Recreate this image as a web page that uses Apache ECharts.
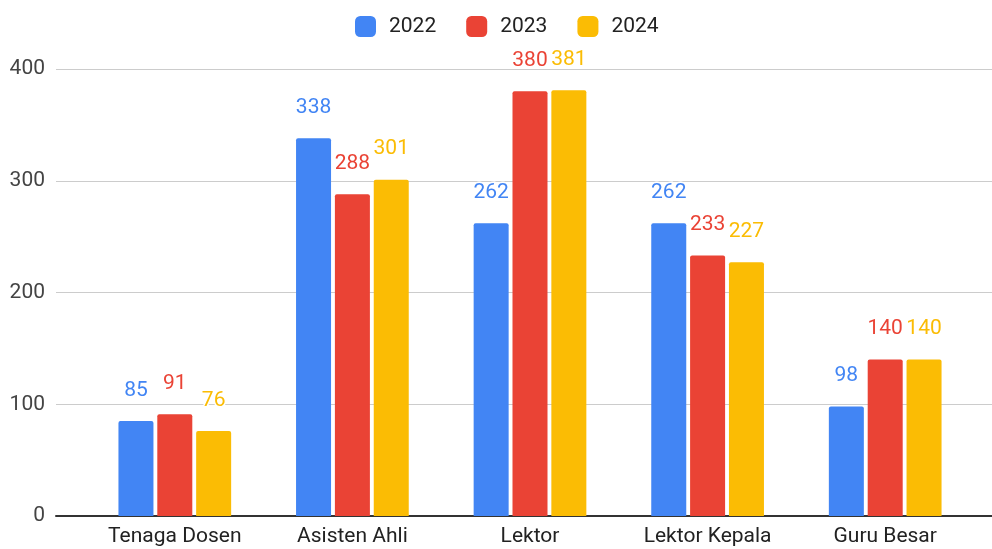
<!DOCTYPE html>
<html><head><meta charset="utf-8">
<script src="https://cdn.jsdelivr.net/npm/echarts@6/dist/echarts.min.js"></script>
<style>html,body{margin:0;padding:0;background:#fff}#c{width:992px;height:549px}</style>
</head><body><div id="c"></div>
<script>
const categories = ["Tenaga Dosen", "Asisten Ahli", "Lektor", "Lektor Kepala", "Guru Besar"];
const seriesNames = ["2022", "2023", "2024"];
const values2022 = [85, 338, 262, 262, 98];
const values2023 = [91, 288, 380, 233, 140];
const values2024 = [76, 301, 381, 227, 140];
const yTicks = [0, 100, 200, 300, 400];

const colors = ["#4285F4", "#EA4335", "#FBBC04"];
const allValues = [values2022, values2023, values2024];
const font = "Roboto";

const chart = echarts.init(document.getElementById('c'));
chart.setOption({
  animation: false,
  color: colors,
  textStyle: { fontFamily: font },
  legend: {
    top: 11, left: 350,
    itemWidth: 21, itemHeight: 21, itemGap: 30,
    icon: 'roundRect',
    textStyle: { fontSize: 21, color: '#222', fontFamily: font, padding: [0, 0, 0, 8] },
    data: seriesNames
  },
  grid: [
    { left: 56, right: 0, top: 69, bottom: 33 },
    { left: 86, right: 18, top: 69, bottom: 33 }
  ],
  xAxis: [
    { type: 'category', gridIndex: 0, data: categories, show: true,
      axisLine: { show: true, lineStyle: { color: '#333', width: 2 } },
      axisTick: { show: false }, axisLabel: { show: false } },
    { type: 'category', gridIndex: 1, data: categories,
      axisLine: { show: false }, axisTick: { show: false },
      axisLabel: { fontSize: 21, color: '#222', fontFamily: font, margin: 10 } }
  ],
  yAxis: [
    { type: 'value', gridIndex: 0, min: yTicks[0], max: yTicks[yTicks.length - 1], interval: 100,
      axisLine: { show: false }, axisTick: { show: false },
      axisLabel: { fontSize: 21, color: '#444', fontFamily: font, margin: 11 },
      splitLine: { lineStyle: { color: '#ccc', width: 1 } } },
    { type: 'value', gridIndex: 1, min: yTicks[0], max: yTicks[yTicks.length - 1], interval: 100,
      show: false, splitLine: { show: false } }
  ],
  series: seriesNames.map((name, i) => ({
    name: name,
    type: 'bar',
    xAxisIndex: 1, yAxisIndex: 1,
    data: allValues[i],
    barWidth: 35,
    barGap: '11%',
    itemStyle: { color: colors[i], borderRadius: [2, 2, 0, 0] },
    label: {
      show: true, position: 'top', distance: 20,
      color: colors[i], fontSize: 21, fontFamily: font,
      textBorderColor: '#fff', textBorderWidth: 3
    }
  }))
});
</script></body></html>
